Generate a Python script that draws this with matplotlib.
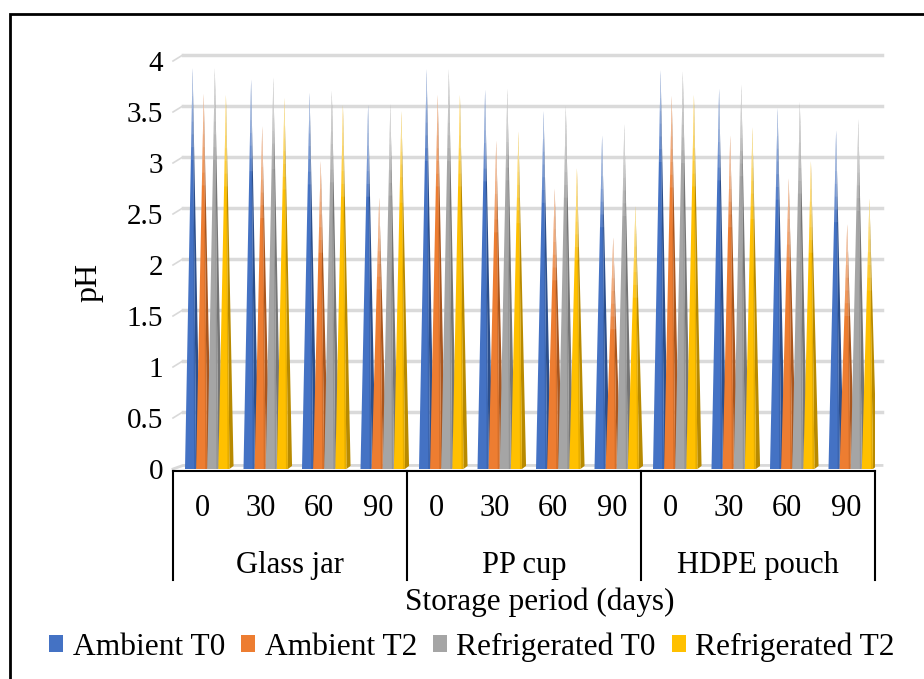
import numpy as np
import matplotlib.pyplot as plt
from matplotlib.patches import Patch, Rectangle

plt.rcParams['font.family'] = ['Liberation Serif', 'DejaVu Serif']

# storage period (days) and packaging type
days = ['0', '30', '60', '90']
packages = ['Glass jar', 'PP cup', 'HDPE pouch']
series = ['Ambient T0', 'Ambient T2', 'Refrigerated T0', 'Refrigerated T2']

# pH values, 12 categories (package x day) per series
ambient_t0 = [3.93, 3.82, 3.69, 3.57, 3.92, 3.72, 3.51, 3.27, 3.91, 3.73, 3.54, 3.32]
ambient_t2 = [3.68, 3.36, 3.02, 2.66, 3.67, 3.22, 2.75, 2.27, 3.66, 3.27, 2.85, 2.40]
refrig_t0 = [3.93, 3.84, 3.71, 3.58, 3.92, 3.73, 3.56, 3.38, 3.90, 3.77, 3.60, 3.43]
refrig_t2 = [3.67, 3.64, 3.57, 3.51, 3.67, 3.31, 2.95, 2.58, 3.67, 3.35, 3.02, 2.65]
values = [ambient_t0, ambient_t2, refrig_t0, refrig_t2]

face_colors = ['#4472C4', '#ED7D31', '#A5A5A5', '#FFC000']
side_colors = ['#2C4F8C', '#A9561E', '#767676', '#B88A00']

FS = 22
W, H = 924, 679
fig = plt.figure(figsize=(W / 100, H / 100), dpi=100)

# axes: x 0..12 spans 173..875 px, y=0 at 469 px, 102 px per pH unit
px_per_unit = 102.0
ytop = 4.2
ax = fig.add_axes([173 / W, (H - 469) / H, (875 - 173) / W, ytop * px_per_unit / H])
ax.set_xlim(0, 12)
ax.set_ylim(0, ytop)
for s in ax.spines.values():
    s.set_visible(False)
ax.set_xticks([])
ax.set_yticks(np.arange(0, 4.01, 0.5))
ax.set_yticklabels(['0', '0.5', '1', '1.5', '2', '2.5', '3', '3.5', '4'], fontsize=FS - 1)
ax.tick_params(axis='y', length=0, pad=7)

# back wall gridlines, side wall and floor
wall_dx, wall_dy = 0.17, 0.06
grid_end = (882 - 173) / 58.5
for v in np.arange(0.5, 4.01, 0.5):
    ax.plot([0, wall_dx], [v, v + wall_dy], color='#D9D9D9', lw=1.2, clip_on=False, zorder=0)
    ax.plot([wall_dx, grid_end], [v + wall_dy, v + wall_dy], color='#DADADA', lw=2.5,
            clip_on=False, zorder=0)
ax.plot([0, wall_dx, grid_end], [0, 0.035, 0.035], color='#D9D9D9', lw=2, clip_on=False, zorder=0)

# pyramids
bw = 0.19
dx, dy = 0.07, 0.03
for i in range(12):
    x_start = i + 0.205
    for k in range(4):
        v = values[k][i]
        x0 = x_start + k * bw
        x1 = x0 + bw
        xt = x0 + bw * 0.5 + dx * 0.5
        z = 2 + k
        ax.fill([x1, x1 + dx, xt], [0, dy, v], color=side_colors[k], lw=0, zorder=z)
        ax.fill([x0, x1, xt], [0, 0, v], color=face_colors[k], lw=0, zorder=z)
        # shading along the right edge of the front face
        ax.fill([x1 - bw * 0.18, x1, xt], [0, 0, v], color=side_colors[k], alpha=0.35,
                lw=0, zorder=z)
        # tip fades towards white
        for tip in np.linspace(0.9, 0.15, 7):
            f = 1 - tip / v
            ax.fill([x0 + (xt - x0) * f, x1 + dx + (xt - x1 - dx) * f, xt],
                    [v - tip, v - tip, v], color='white', alpha=0.11, lw=0, zorder=z)

# multi-level category axis
y_top = -0.02
y_bot = -(580 - 469) / px_per_unit
ax.plot([0, 12], [y_top, y_top], color='black', lw=1.5, clip_on=False)
for xs in [0, 4, 8, 12]:
    ax.plot([xs, xs], [y_top, y_bot], color='black', lw=1.5, clip_on=False)
for i in range(12):
    ax.text(i + 0.5, -(508 - 469) / px_per_unit, days[i % 4], ha='center', va='center',
            fontsize=FS)
for g, name in enumerate(packages):
    ax.text(g * 4 + 2, -(565 - 469) / px_per_unit, name, ha='center', va='center',
            fontsize=FS)

fig.text(89 / W, 1 - 282 / H, 'pH', rotation=90, ha='center', va='center', fontsize=FS + 1)
fig.text(540 / W, 1 - 602 / H, 'Storage period (days)', ha='center', va='center',
         fontsize=FS + 0.5)

handles = [Patch(facecolor=c, edgecolor='none') for c in face_colors]
fig.legend(handles, series, loc='center', bbox_to_anchor=(472 / W, 1 - 647 / H), ncol=4,
           frameon=False, fontsize=FS + 0.7, handlelength=0.45, handleheight=0.45,
           handletextpad=0.3, columnspacing=0.5, borderpad=0)

# outer frame
fig.add_artist(Rectangle((10 / W, -0.1), 1.2, 1.1 - 14 / H, transform=fig.transFigure,
                         fill=False, edgecolor='black', lw=2))

fig.savefig('out.png', dpi=100)
